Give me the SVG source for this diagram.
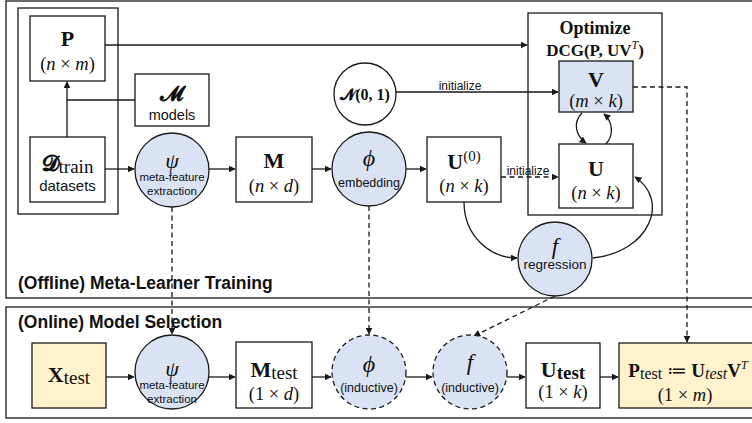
<svg xmlns="http://www.w3.org/2000/svg" width="752" height="423" viewBox="0 0 752 423">
<style>
.box{fill:#fff;stroke:#1a1a1a;stroke-width:1.3}
.blue{fill:#dae3f3;stroke:#1a1a1a;stroke-width:1.3}
.yel{fill:#fff2cc;stroke:#1a1a1a;stroke-width:1.3}
.dash{stroke-dasharray:5 3.5}
.ln{fill:none;stroke:#1a1a1a;stroke-width:1.3}
.m{font-family:"Liberation Serif","DejaVu Serif","DejaVu Sans",serif;fill:#111;text-anchor:middle}
.s{font-family:"Liberation Sans",Arial,sans-serif;fill:#111;text-anchor:middle}
.b{font-weight:bold}
.i{font-style:italic}
.t{font-family:"Liberation Sans",Arial,sans-serif;font-weight:bold;font-size:17.5px;fill:#111}
.d{font-size:18.5px}
</style>
<defs>
<marker id="ah" viewBox="0 0 10 10" refX="9" refY="5" markerWidth="7" markerHeight="7" markerUnits="userSpaceOnUse" orient="auto">
<path d="M0,0 L10,5 L0,10 z" fill="#1a1a1a"/>
</marker>
</defs>
<rect width="752" height="423" fill="#fff"/>
<g id="offline">
<rect class="box" x="6" y="1" width="760" height="297"/>
<text class="t" x="18" y="289">(Offline) Meta-Learner Training</text>
</g>
<g id="online">
<rect class="box" x="6" y="307" width="760" height="111"/>
<text class="t" x="18" y="328">(Online) Model Selection</text>
</g>
<g id="trainbox"><rect class="box" x="18" y="8" width="100" height="206"/></g>
<g id="optbox">
<rect class="box" x="528" y="13" width="134" height="202"/>
<text class="m b" x="595" y="34" font-size="18">Optimize</text>
<text class="m b" x="595" y="56" font-size="17">DCG(P, UV<tspan class="i" font-weight="normal" font-size="12" dy="-7">T</tspan><tspan dy="7">)</tspan></text>
</g>
<g id="connectors">
<path class="ln" d="M67,137 V82" marker-end="url(#ah)"/>
<path class="ln" d="M135,100 H67"/>
<path class="ln" d="M105,45 H527" marker-end="url(#ah)"/>
<path class="ln" d="M396,92 H558" marker-end="url(#ah)"/>
<path class="ln" d="M105,169 H134" marker-end="url(#ah)"/>
<path class="ln" d="M209,169 H235" marker-end="url(#ah)"/>
<path class="ln" d="M312,169 H331" marker-end="url(#ah)"/>
<path class="ln" d="M406,169 H426" marker-end="url(#ah)"/>
<path class="ln dash" d="M501,177 H558" marker-end="url(#ah)"/>
<path class="ln" d="M582,113 C573,122 575,135 586,143" marker-end="url(#ah)"/>
<path class="ln" d="M606,144 C614,135 613,122 604,114" marker-end="url(#ah)"/>
<path class="ln" d="M464,202 C464,236 490,258 517,258" marker-end="url(#ah)"/>
<path class="ln" d="M593,258 C650,252 670,200 635,177" marker-end="url(#ah)"/>
<path class="ln dash" d="M633,87 H687 V342" marker-end="url(#ah)"/>
<path class="ln dash" d="M172,207 V334" marker-end="url(#ah)"/>
<path class="ln dash" d="M369,206 V334" marker-end="url(#ah)"/>
<path class="ln dash" d="M555,296 L474,336" marker-end="url(#ah)"/>
<path class="ln" d="M106,377 H134" marker-end="url(#ah)"/>
<path class="ln" d="M209,377 H235" marker-end="url(#ah)"/>
<path class="ln" d="M312,377 H331" marker-end="url(#ah)"/>
<path class="ln" d="M406,377 H432" marker-end="url(#ah)"/>
<path class="ln" d="M507,377 H525" marker-end="url(#ah)"/>
<path class="ln" d="M600,377 H618" marker-end="url(#ah)"/>
<text class="s" x="460" y="90" font-size="12">initialize</text>
<text class="s" x="528" y="175" font-size="12">initialize</text>
</g>
<g id="P">
<rect class="box" x="30" y="16" width="75" height="65"/>
<text class="m b" x="67.5" y="46" font-size="22">P</text>
<text class="m d" x="67.5" y="70">(<tspan class="i">n</tspan> × <tspan class="i">m</tspan>)</text>
</g>
<g id="models">
<rect class="box" x="135" y="74" width="74" height="52"/>
<text class="m b" x="172" y="101" font-size="21">𝓜</text>
<text class="s" x="172" y="120" font-size="14.5">models</text>
</g>
<g id="Dtrain">
<rect class="box" x="30" y="137" width="75" height="65"/>
<text class="m" x="67.5" y="171" font-size="22"><tspan class="b">𝓓</tspan><tspan font-size="19" dy="2">train</tspan></text>
<text class="s" x="67.5" y="191" font-size="15">datasets</text>
</g>
<g id="psi">
<circle class="blue" cx="172" cy="170" r="37"/>
<text class="m i" x="172" y="168" font-size="22">ψ</text>
<text class="s" x="172" y="181" font-size="11.5">meta-feature</text>
<text class="s" x="172" y="195" font-size="11.5">extraction</text>
</g>
<g id="M">
<rect class="box" x="236" y="137" width="76" height="65"/>
<text class="m b" x="274" y="168" font-size="22">M</text>
<text class="m d" x="274" y="192">(<tspan class="i">n</tspan> × <tspan class="i">d</tspan>)</text>
</g>
<g id="phi">
<circle class="blue" cx="369" cy="169" r="37"/>
<text class="m i" x="369" y="166" font-size="24">ϕ</text>
<text class="s" x="369" y="187" font-size="12.5">embedding</text>
</g>
<g id="U0">
<rect class="box" x="427" y="137" width="74" height="65"/>
<text class="m" x="464" y="169" font-size="22"><tspan class="b">U</tspan><tspan font-size="15" dy="-8">(0)</tspan></text>
<text class="m d" x="464" y="192">(<tspan class="i">n</tspan> × <tspan class="i">k</tspan>)</text>
</g>
<g id="N01">
<circle class="box" cx="365" cy="94" r="31"/>
<text class="m b" x="365" y="100" font-size="16">𝓝(0, 1)</text>
</g>
<g id="V">
<rect class="blue" x="559" y="61" width="74" height="51"/>
<text class="m b" x="596" y="87" font-size="22">V</text>
<text class="m d" x="596" y="107">(<tspan class="i">m</tspan> × <tspan class="i">k</tspan>)</text>
</g>
<g id="U">
<rect class="box" x="559" y="144" width="74" height="64"/>
<text class="m b" x="596" y="176" font-size="22">U</text>
<text class="m d" x="596" y="199">(<tspan class="i">n</tspan> × <tspan class="i">k</tspan>)</text>
</g>
<g id="f">
<circle class="blue" cx="555" cy="259" r="37"/>
<text class="m i" x="555" y="254" font-size="23">f</text>
<text class="s" x="555" y="269" font-size="13.5">regression</text>
</g>
<g id="Xtest">
<rect class="yel" x="32" y="343" width="74" height="65"/>
<text class="m" x="69" y="382" font-size="22"><tspan class="b">X</tspan><tspan font-size="19" dy="2">test</tspan></text>
</g>
<g id="psi2">
<circle class="blue" cx="172" cy="372" r="37"/>
<text class="m i" x="172" y="376" font-size="22">ψ</text>
<text class="s" x="172" y="389" font-size="11.5">meta-feature</text>
<text class="s" x="172" y="403" font-size="11.5">extraction</text>
</g>
<g id="Mtest">
<rect class="box" x="236" y="342" width="76" height="66"/>
<text class="m" x="274" y="377" font-size="22"><tspan class="b">M</tspan><tspan font-size="19" dy="2">test</tspan></text>
<text class="m d" x="274" y="400">(1 × <tspan class="i">d</tspan>)</text>
</g>
<g id="phi2">
<circle class="blue dash" cx="369" cy="372" r="37"/>
<text class="m i" x="369" y="372" font-size="24">ϕ</text>
<text class="s" x="369" y="392" font-size="12.5">(inductive)</text>
</g>
<g id="f2">
<circle class="blue dash" cx="470" cy="372" r="37"/>
<text class="m i" x="470" y="370" font-size="23">f</text>
<text class="s" x="470" y="392" font-size="12.5">(inductive)</text>
</g>
<g id="Utest">
<rect class="box" x="526" y="343" width="74" height="65"/>
<text class="m b" x="563" y="377" font-size="22">U<tspan font-size="19" dy="2">test</tspan></text>
<text class="m d" x="563" y="398">(1 × <tspan class="i">k</tspan>)</text>
</g>
<g id="Ptest">
<rect class="yel" x="619" y="343" width="140" height="65"/>
<text class="m" x="688" y="377" font-size="19"><tspan class="b">P</tspan><tspan font-size="16" dy="2">test</tspan><tspan dy="-2"> ≔ </tspan><tspan class="b">U</tspan><tspan class="i" font-size="16" dy="2">test</tspan><tspan class="b" dy="-2">V</tspan><tspan class="i" font-size="12" dy="-8">T</tspan></text>
<text class="m d" x="685" y="401">(1 × <tspan class="i">m</tspan>)</text>
</g>
</svg>
